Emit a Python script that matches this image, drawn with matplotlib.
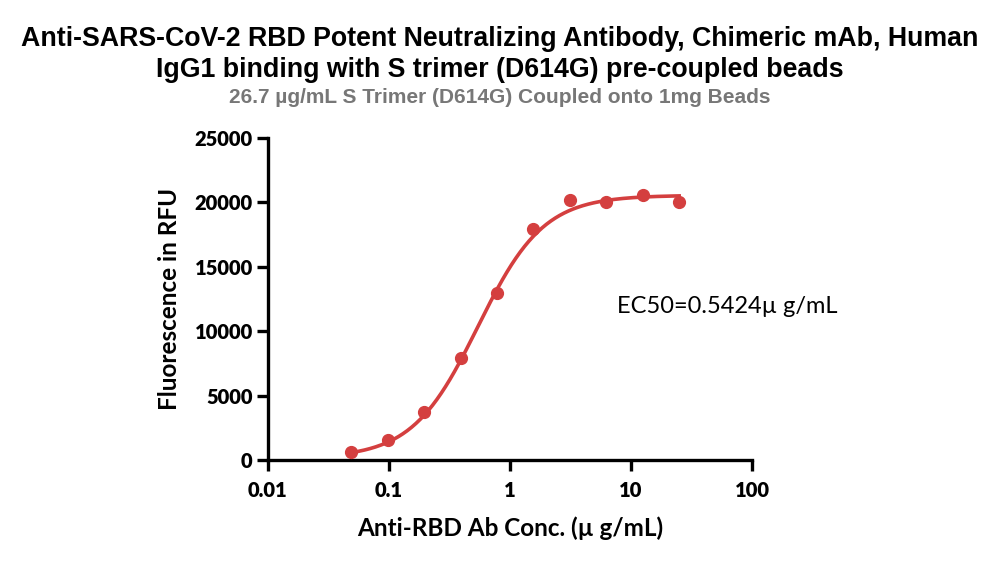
import numpy as np
import matplotlib
matplotlib.use("Agg")
import matplotlib.pyplot as plt
from matplotlib.ticker import FixedLocator, FixedFormatter, NullLocator

# Data
conc = [0.048828, 0.097656, 0.195313, 0.390625, 0.78125, 1.5625, 3.125, 6.25, 12.5, 25.0]
rfu = [650, 1550, 3700, 7900, 13000, 17900, 20200, 20000, 20550, 20050]

# 4PL fit parameters (EC50 from chart annotation)
fit_bottom = 150
fit_top = 20550
fit_ec50 = 0.5424
fit_hill = 1.6

x_ticks = [0.01, 0.1, 1, 10, 100]
x_tick_labels = ["0.01", "0.1", "1", "10", "100"]
y_ticks = [0, 5000, 10000, 15000, 20000, 25000]
y_tick_labels = ["0", "5000", "10000", "15000", "20000", "25000"]

title = "Anti-SARS-CoV-2 RBD Potent Neutralizing Antibody, Chimeric mAb, Human\nIgG1 binding with S trimer (D614G) pre-coupled beads"
subtitle = "26.7 µg/mL S Trimer (D614G) Coupled onto 1mg Beads"
xlabel = "Anti-RBD Ab Conc. (µ g/mL)"
ylabel = "Fluorescence in RFU"
annot = "EC50=0.5424µ g/mL"

red = "#D43F3F"
sans = ['Lato', 'DejaVu Sans']
arial = ['Liberation Sans', 'DejaVu Sans']

fig = plt.figure(figsize=(10, 5.61), dpi=100)
ax = fig.add_axes([0.268, 0.18, 0.484, 0.574])

xs = np.logspace(np.log10(conc[0]), np.log10(conc[-1]), 300)
ys = fit_bottom + (fit_top - fit_bottom) / (1 + (fit_ec50 / xs) ** fit_hill)
ax.plot(xs, ys, color=red, lw=2.6, zorder=2)
ax.plot(conc, rfu, 'o', color=red, ms=8.5, zorder=3)

ax.set_xscale('log')
ax.set_xlim(0.01, 100)
ax.set_ylim(0, 25000)
ax.xaxis.set_major_locator(FixedLocator(x_ticks))
ax.xaxis.set_major_formatter(FixedFormatter(x_tick_labels))
ax.xaxis.set_minor_locator(NullLocator())
ax.yaxis.set_major_locator(FixedLocator(y_ticks))
ax.yaxis.set_major_formatter(FixedFormatter(y_tick_labels))

for s in ['top', 'right']:
    ax.spines[s].set_visible(False)
for s in ['left', 'bottom']:
    ax.spines[s].set_linewidth(2.4)
ax.tick_params(axis='both', which='major', direction='out', length=8, width=2.4,
               labelsize=14.5)
ax.tick_params(axis='x', pad=7)
ax.tick_params(axis='y', pad=3)
for lab in ax.get_xticklabels() + ax.get_yticklabels():
    lab.set_fontfamily(sans)
    lab.set_fontweight('heavy')

ax.set_xlabel(xlabel, fontsize=17.5, fontweight='bold', family=sans, labelpad=12)
ax.set_ylabel(ylabel, fontsize=17.5, fontweight='bold', family=sans, labelpad=10)

ax.text(7.6, 11900, annot, fontsize=17, family=sans, ha='left', va='center')

fig.text(0.5, 0.903, title, ha='center', va='center', fontsize=19.3, fontweight='bold',
         family=arial, linespacing=1.22)
fig.text(0.5, 0.826, subtitle, ha='center', va='center', fontsize=15, fontweight='bold',
         color='#777777', family=arial)

fig.savefig('out.png', dpi=100)
